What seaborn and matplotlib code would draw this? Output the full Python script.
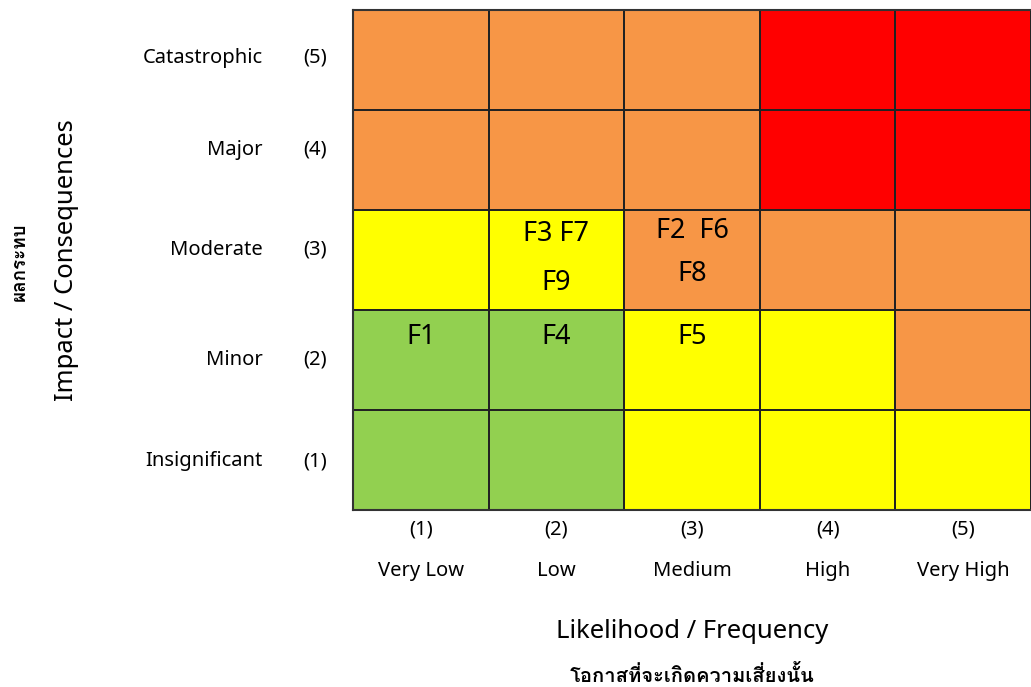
"""
Risk matrix: impact (rows) x likelihood (columns), with findings F1-F9 placed in cells.
"""

import matplotlib
matplotlib.use("Agg")
import matplotlib.pyplot as plt
from matplotlib import font_manager
from matplotlib.colors import ListedColormap
import numpy as np
import pandas as pd
import seaborn as sns

# ---------------------------------------------------------------------------
# Data
# ---------------------------------------------------------------------------
likelihood_levels = ["(1)", "(2)", "(3)", "(4)", "(5)"]
likelihood_names = ["Very Low", "Low", "Medium", "High", "Very High"]
impact_levels = ["(5)", "(4)", "(3)", "(2)", "(1)"]          # top -> bottom
impact_names = ["Catastrophic", "Major", "Moderate", "Minor", "Insignificant"]

# risk level per cell: 0 low (green), 1 medium (yellow), 2 high (orange), 3 extreme (red)
risk_grid = [
    [2, 2, 2, 3, 3],   # (5) Catastrophic
    [2, 2, 2, 3, 3],   # (4) Major
    [1, 1, 2, 2, 2],   # (3) Moderate
    [0, 0, 1, 1, 2],   # (2) Minor
    [0, 0, 1, 1, 1],   # (1) Insignificant
]
risk_colors = ["#92D050", "#FFFF00", "#F79646", "#FF0000"]

# findings: label, impact row index, likelihood col index
finding_labels = ["F1", "F4", "F5", "F3 F7", "F9", "F2  F6", "F8"]
finding_rows = [3, 3, 3, 2, 2, 2, 2]
finding_cols = [0, 1, 2, 1, 1, 2, 2]

# layout: vertical spot of each finding inside its cell, row label nudges
FINDING_DY = [0.27, 0.27, 0.27, 0.24, 0.73, 0.21, 0.64]
ROW_LABEL_DY = [-0.02, -0.10, -0.10, 0.0, 0.01]

x_title = "Likelihood / Frequency"
x_title_th = "โอกาสที่จะเกิดความเสี่ยงนั้น"
y_title = "Impact / Consequences"
y_title_th = "ผลกระทบ"


def thai_family():
    """Return an installed font family that has Thai glyphs, if any."""
    from fontTools.ttLib import TTFont
    for f in font_manager.fontManager.ttflist:
        try:
            font = TTFont(f.fname, fontNumber=0, lazy=True)
            if 0x0E01 in font.getBestCmap():
                return f.name
        except Exception:
            continue
    return None


def main():
    sns.set_theme(style="white")
    base = "Noto Sans"
    th = thai_family()
    fams = [base, th, "DejaVu Sans"] if th else [base, "DejaVu Sans"]
    plt.rcParams["font.family"] = fams
    plt.rcParams["text.color"] = "black"

    df = pd.DataFrame(risk_grid, index=impact_levels, columns=likelihood_levels)

    fig = plt.figure(figsize=(10.31, 6.87), dpi=100)
    ax = fig.add_axes([353 / 1031, 177 / 687, 678 / 1031, 500 / 687])
    sns.heatmap(
        df, ax=ax, cmap=ListedColormap(risk_colors), vmin=-0.5, vmax=3.5,
        cbar=False, linewidths=1.3, linecolor="#222222", square=False,
    )
    ax.set_xticks([])
    ax.set_yticks([])
    ax.set_xlabel("")
    ax.set_ylabel("")
    for side in ["left", "top", "bottom"]:
        ax.spines[side].set_visible(True)
        ax.spines[side].set_color("#333333")
        ax.spines[side].set_linewidth(1.5)

    # findings inside the cells
    for lab, r, c, dy in zip(finding_labels, finding_rows, finding_cols, FINDING_DY):
        ax.text(c + 0.5, r + dy, lab, ha="center", va="center",
                fontsize=19.5, color="black")

    lab_kw = dict(fontsize=14.5, clip_on=False)
    # row labels (left of the grid)
    for i, (lvl, name, dy) in enumerate(zip(impact_levels, impact_names, ROW_LABEL_DY)):
        y = i + 0.5 + dy
        ax.text(-0.28, y, lvl, ha="center", va="center", **lab_kw)
        ax.text(-0.665, y, name, ha="right", va="center", **lab_kw)

    # column labels (below the grid)
    for j, (lvl, name) in enumerate(zip(likelihood_levels, likelihood_names)):
        ax.text(j + 0.5, 5.19, lvl, ha="center", va="center", **lab_kw)
        ax.text(j + 0.5, 5.61, name, ha="center", va="center", **lab_kw)

    fig.text(692 / 1031, 1 - 631 / 687, x_title, ha="center", va="center",
             fontsize=18.5)
    fig.text(692 / 1031, 1 - 676 / 687, x_title_th, ha="center", va="center",
             fontsize=14.5, fontweight="bold")
    fig.text(67 / 1031, 1 - 260 / 687, y_title, ha="center", va="center",
             rotation=90, fontsize=18.5)
    fig.text(20 / 1031, 1 - 262 / 687, y_title_th, ha="center", va="center",
             rotation=90, fontsize=13.5, fontweight="bold")

    fig.savefig("out.png", dpi=100)
    plt.close(fig)


if __name__ == "__main__":
    main()
